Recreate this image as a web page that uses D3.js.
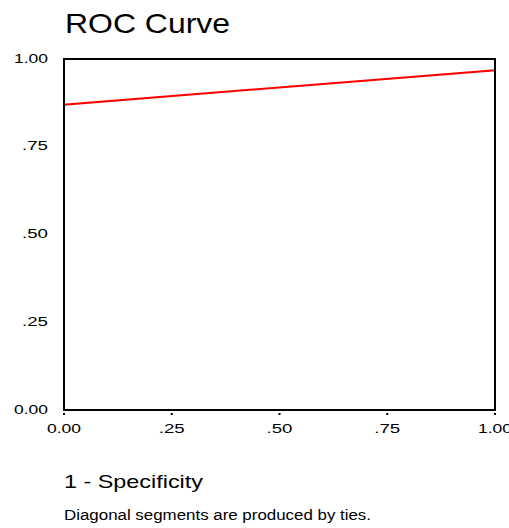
<!DOCTYPE html>
<html lang="en">
<head>
<meta charset="UTF-8">
<script src="https://d3js.org/d3.v7.min.js"></script>
<title>ROC Curve</title>
<style>
    body { margin: 0; background: #fff; }
    svg { font-family: "Liberation Sans", Arial, sans-serif; }
</style>
</head>
<body>
<div id="chart"></div>
<script>
    // ROC curve points (1 - specificity, sensitivity)
    const fpr = [0, 0, 1, 1];
    const tpr = [0, 0.87, 0.968, 1];
    const tickValues = [0, 0.25, 0.5, 0.75, 1];
    const tickLabels = ["0.00", ".25", ".50", ".75", "1.00"];

    const width = 509, height = 528;
    const margin = { top: 59, right: 14, bottom: 118, left: 64 };
    const w = width - margin.left - margin.right;
    const h = height - margin.top - margin.bottom;

    const svg = d3.select("#chart").append("svg")
        .attr("width", width)
        .attr("height", height);

    const x = d3.scaleLinear().domain([0, 1]).range([margin.left, margin.left + w]);
    const y = d3.scaleLinear().domain([0, 1]).range([margin.top + h, margin.top]);

    // the original output uses wide glyphs, so stretch text to the measured widths
    const labelLen = s => s.length === 4 ? 34 : 26;

    // Title
    svg.append("text")
        .attr("x", 65).attr("y", 33)
        .attr("textLength", 165).attr("lengthAdjust", "spacingAndGlyphs")
        .style("font-size", "28px")
        .text("ROC Curve");

    // Curve
    const pts = fpr.map((d, i) => [d, tpr[i]]);
    svg.append("path")
        .datum(pts)
        .attr("fill", "none")
        .attr("stroke", "#ff0000")
        .attr("stroke-width", 2)
        .attr("d", d3.line().x(d => x(d[0])).y(d => y(d[1])));

    // Frame
    svg.append("rect")
        .attr("x", x(0)).attr("y", y(1))
        .attr("width", x(1) - x(0)).attr("height", y(0) - y(1))
        .attr("fill", "none")
        .attr("stroke", "#000")
        .attr("stroke-width", 2);

    // Y labels
    svg.selectAll(".ylab").data(tickValues).enter().append("text")
        .attr("class", "ylab")
        .attr("x", 48)
        .attr("y", d => y(d) + 3.5)
        .attr("text-anchor", "end")
        .attr("textLength", (d, i) => labelLen(tickLabels[i]))
        .attr("lengthAdjust", "spacingAndGlyphs")
        .style("font-size", "12.5px")
        .text((d, i) => tickLabels[i]);

    // X tick dots
    svg.selectAll(".xtick").data(tickValues).enter().append("rect")
        .attr("class", "xtick")
        .attr("x", d => x(d) - 1)
        .attr("y", y(0) + 3)
        .attr("width", 2).attr("height", 2)
        .attr("fill", "#000");

    // X labels
    svg.selectAll(".xlab").data(tickValues).enter().append("text")
        .attr("class", "xlab")
        .attr("x", d => x(d))
        .attr("y", 433)
        .attr("text-anchor", "middle")
        .attr("textLength", (d, i) => labelLen(tickLabels[i]))
        .attr("lengthAdjust", "spacingAndGlyphs")
        .style("font-size", "12.5px")
        .text((d, i) => tickLabels[i]);

    // X axis title
    svg.append("text")
        .attr("x", 64).attr("y", 488)
        .attr("textLength", 139).attr("lengthAdjust", "spacingAndGlyphs")
        .style("font-size", "19px")
        .text("1 - Specificity");

    // Footnote
    svg.append("text")
        .attr("x", 64).attr("y", 520)
        .attr("textLength", 307).attr("lengthAdjust", "spacingAndGlyphs")
        .style("font-size", "14px")
        .text("Diagonal segments are produced by ties.");
</script>
</body>
</html>
